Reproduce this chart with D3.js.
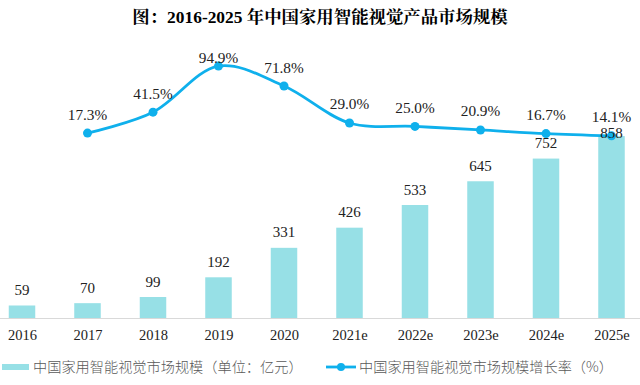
<!DOCTYPE html>
<html>
<head>
<meta charset="utf-8">
<script src="https://cdn.jsdelivr.net/npm/d3@7/dist/d3.min.js"></script>
<style>
  html, body { margin: 0; padding: 0; background: #fff; }
  svg { display: block; }
</style>
</head>
<body>
<svg id="chart" width="640" height="385"></svg>
<script>
const categories = ["2016","2017","2018","2019","2020","2021e","2022e","2023e","2024e","2025e"];
const marketSize = [59,70,99,192,331,426,533,645,752,858];
const growthCats = ["2017","2018","2019","2020","2021e","2022e","2023e","2024e","2025e"];
const growthRate = [17.3,41.5,94.9,71.8,29.0,25.0,20.9,16.7,14.1];
const titleText = "图：2016-2025 年中国家用智能视觉产品市场规模";
const barLegend = "中国家用智能视觉市场规模（单位：亿元）";
const lineLegend = "中国家用智能视觉市场规模增长率（%）";

const svg = d3.select("#chart");
const serif = "'Liberation Serif','Times New Roman','Noto Serif CJK SC','Noto Sans CJK SC',serif";
const cjk = "'Noto Sans CJK SC','Noto Sans',sans-serif";
const barColor = "#97E0E6";
const lineColor = "#0FB0EC";

const x = d3.scalePoint().domain(categories).range([22, 611.5]);
const yBar = d3.scaleLinear().domain([0, 1000]).range([318, 106]);
const yLine = d3.scaleLinear().domain([0, 100]).range([148, 61.7]);
const barW = 26.5;

// title
svg.append("text")
  .attr("x", 320).attr("y", 23)
  .attr("text-anchor", "middle")
  .attr("font-family", "'Liberation Serif','Noto Serif CJK SC','Noto Sans CJK SC',serif")
  .attr("font-weight", "bold")
  .attr("font-size", 17.4)
  .attr("fill", "#000")
  .text(titleText);

// bars
svg.append("g").selectAll("rect")
  .data(categories.map((c, i) => ({c, v: marketSize[i]})))
  .join("rect")
  .attr("x", d => x(d.c) - barW / 2)
  .attr("y", d => yBar(d.v))
  .attr("width", barW)
  .attr("height", d => yBar(0) - yBar(d.v))
  .attr("fill", barColor);

// axis
const xAxis = d3.axisBottom(x).tickSize(0).tickPadding(12);
const gx = svg.append("g").attr("transform", `translate(0,${yBar(0)})`).call(xAxis);
gx.select(".domain").remove();
gx.append("line").attr("x1", 0).attr("x2", 640).attr("y1", 0.5).attr("y2", 0.5)
  .attr("stroke", "#d9d9d9").attr("stroke-width", 1);
gx.selectAll(".tick text")
  .attr("font-family", serif).attr("font-size", 14.5).attr("fill", "#222");

// line + markers (drawn before bar labels so labels stay on top)
const lineData = growthCats.map((c, i) => ({c, v: growthRate[i]}));
const line = d3.line().x(d => x(d.c)).y(d => yLine(d.v)).curve(d3.curveCatmullRom.alpha(0.5));
svg.append("path").datum(lineData)
  .attr("d", line).attr("fill", "none")
  .attr("stroke", lineColor).attr("stroke-width", 2.8);
svg.append("g").selectAll("circle").data(lineData).join("circle")
  .attr("cx", d => x(d.c)).attr("cy", d => yLine(d.v)).attr("r", 4.5)
  .attr("fill", lineColor);

// bar labels (kept below the line labels' area)
svg.append("g").selectAll("text")
  .data(categories.map((c, i) => ({c, v: marketSize[i]})))
  .join("text")
  .attr("x", d => x(d.c))
  .attr("y", d => Math.max(yBar(d.v) - 10.5, 138))
  .attr("text-anchor", "middle")
  .attr("font-family", serif).attr("font-size", 15).attr("fill", "#222")
  .text(d => d.v);

// line labels (kept below the plot's top edge)
svg.append("g").selectAll("text").data(lineData).join("text")
  .attr("x", d => x(d.c)).attr("y", d => Math.max(yLine(d.v) - 13.5, 63))
  .attr("text-anchor", "middle")
  .attr("font-family", serif).attr("font-size", 15.3).attr("fill", "#222")
  .text(d => d.v.toFixed(1) + "%");

// legend
const lg = svg.append("g");
lg.append("rect").attr("x", 2).attr("y", 364).attr("width", 27).attr("height", 6).attr("fill", barColor);
lg.append("text").attr("x", 33).attr("y", 372)
  .attr("font-family", cjk).attr("font-size", 14.2).attr("font-weight", 300).attr("fill", "#595959")
  .text(barLegend);
lg.append("line").attr("x1", 326).attr("x2", 356).attr("y1", 367).attr("y2", 367)
  .attr("stroke", lineColor).attr("stroke-width", 2.8);
lg.append("circle").attr("cx", 341).attr("cy", 367).attr("r", 4).attr("fill", lineColor);
lg.append("text").attr("x", 359).attr("y", 372)
  .attr("font-family", cjk).attr("font-size", 14.2).attr("font-weight", 300).attr("fill", "#595959")
  .text(lineLegend);
</script>
</body>
</html>
